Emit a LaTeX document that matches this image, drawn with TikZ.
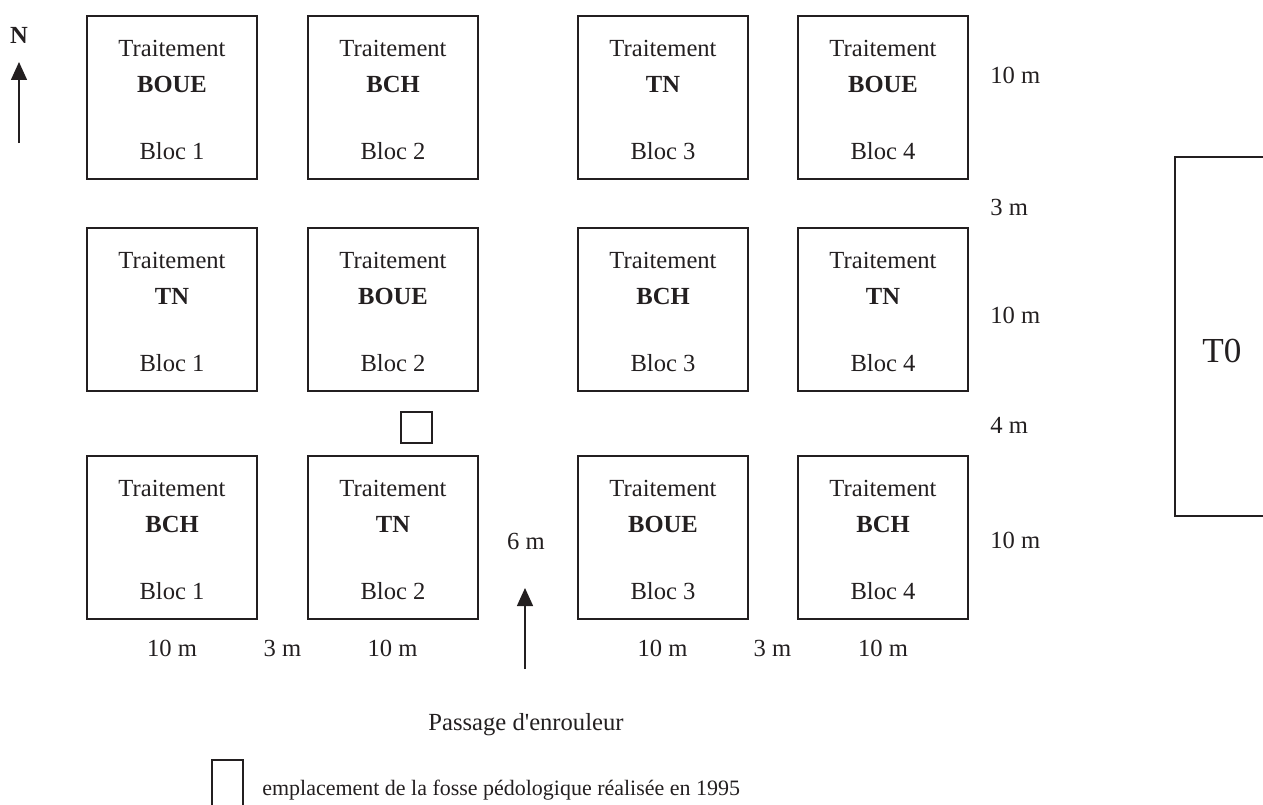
\documentclass[tikz,border=0pt]{standalone}
\usepackage{fontspec}
\setmainfont{Liberation Serif}[Ligatures=TeXOff]
\usepackage{tikz}
\usetikzlibrary{arrows.meta}
\usepackage{xcolor}
\definecolor{encre}{HTML}{231F20}

% one plot: name, left x, top y, treatment, block
\newcommand{\parcelle}[5]{%
  \node[plot] (#1) at (#2+85,#3+81.5) {};
  \node[lbl] (#1t) at (#2+85,#3+32) {Traitement};
  \node[lbl,font=\fontsize{14pt}{16pt}\selectfont\bfseries] (#1b) at (#2+85,#3+68) {#4};
  \node[lbl] (#1c) at (#2+85,#3+135) {Bloc #5};
}

\begin{document}
\begin{tikzpicture}[x=0.2mm,y=-0.2mm,
    plot/.style={draw=encre, line width=0.55mm, minimum width=34mm, minimum height=32.6mm, inner sep=0pt},
    lbl/.style={text=encre, inner sep=0pt, font=\fontsize{14pt}{16pt}\selectfont},
    fleche/.style={draw=encre, line width=0.28mm, -{Triangle[length=3.6mm,width=3.2mm]}}]
    \useasboundingbox (0,0) rectangle (1263,805);
    % North arrow
    \node[lbl,font=\fontsize{14pt}{16pt}\selectfont\bfseries] (nord) at (19,35) {N};
    \coordinate (nbas) at (19,143);
    \coordinate (nhaut) at (19,62);
    \draw[fleche] (nbas) -- (nhaut);
    % Row 1
    \parcelle{a1}{87}{16}{BOUE}{1}
    \parcelle{a2}{308}{16}{BCH}{2}
    \parcelle{a3}{578}{16}{TN}{3}
    \parcelle{a4}{798}{16}{BOUE}{4}
    % Row 2
    \parcelle{b1}{87}{228}{TN}{1}
    \parcelle{b2}{308}{228}{BOUE}{2}
    \parcelle{b3}{578}{228}{BCH}{3}
    \parcelle{b4}{798}{228}{TN}{4}
    % Row 3
    \parcelle{c1}{87}{456}{BCH}{1}
    \parcelle{c2}{308}{456}{TN}{2}
    \parcelle{c3}{578}{456}{BOUE}{3}
    \parcelle{c4}{798}{456}{BCH}{4}
    % Soil pit
    \node[draw=encre, line width=0.4mm, minimum width=6.2mm, minimum height=6.2mm, inner sep=0pt] (fosse) at (416.5,427.5) {};
    % Distances on the right
    \node[lbl,anchor=west] (d1) at (990,75) {10 m};
    \node[lbl,anchor=west] (d2) at (990,207) {3 m};
    \node[lbl,anchor=west] (d3) at (990,315) {10 m};
    \node[lbl,anchor=west] (d4) at (990,425) {4 m};
    \node[lbl,anchor=west] (d5) at (990,540) {10 m};
    % Distances at the bottom
    \node[lbl] (w1) at (172,648) {10 m};
    \node[lbl] (w2) at (282.5,648) {3 m};
    \node[lbl] (w3) at (392.5,648) {10 m};
    \node[lbl] (w4) at (662.5,648) {10 m};
    \node[lbl] (w5) at (772.5,648) {3 m};
    \node[lbl] (w6) at (883,648) {10 m};
    % Passage
    \node[lbl] (six) at (526,541) {6 m};
    \coordinate (pbas) at (525,669);
    \coordinate (phaut) at (525,588);
    \draw[fleche] (pbas) -- (phaut);
    \node[lbl] (passage) at (526,725) {Passage d'enrouleur};
    % Control plot T0
    \draw[encre, line width=0.4mm] (1290,157) -- (1175,157) -- (1175,516) -- (1290,516);
    \node[lbl,font=\fontsize{20pt}{24pt}\selectfont] (t0) at (1222,351) {T0};
    % Legend
    \node[draw=encre, line width=0.4mm, minimum width=6.2mm, minimum height=12mm, inner sep=0pt] (legende) at (227.5,790) {};
    \node[lbl,anchor=west,font=\fontsize{12.5pt}{15pt}\selectfont] (legtxt) at (262,790) {emplacement de la fosse pédologique réalisée en 1995};
\end{tikzpicture}
\end{document}
